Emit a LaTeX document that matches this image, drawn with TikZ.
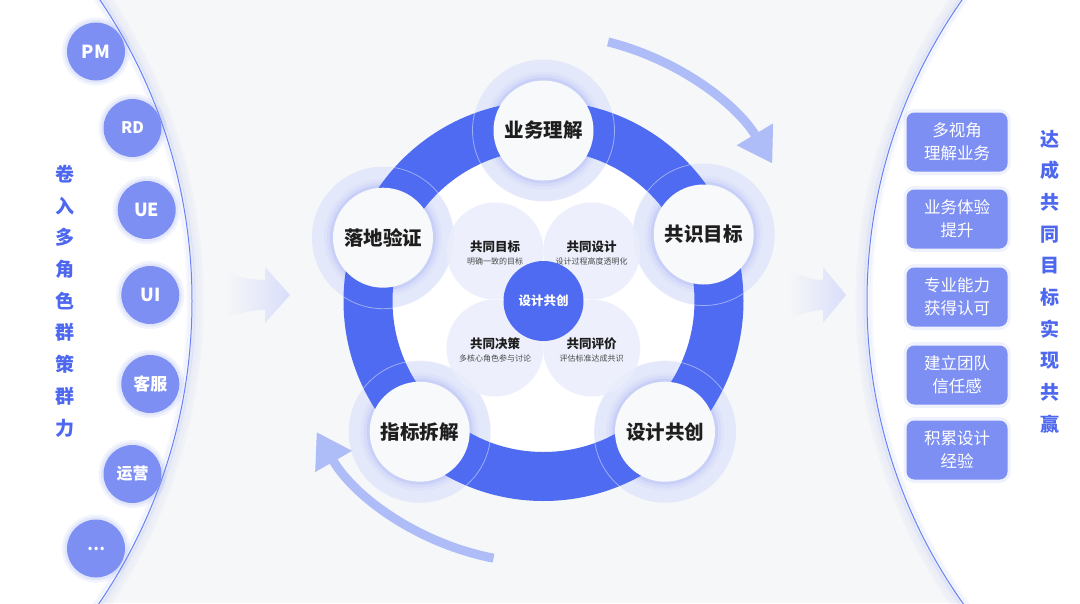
\documentclass[tikz,border=0pt]{standalone}
\usepackage{fontspec}
\setmainfont{Noto Sans CJK SC}
\usepackage{tikz}
\usetikzlibrary{arrows.meta}

\definecolor{ringblue}{HTML}{4E6BF1}
\definecolor{softblue}{HTML}{7D8FF3}
\definecolor{arrowblue}{HTML}{AEBCF7}
\definecolor{halo}{HTML}{E4E8FB}
\definecolor{petalfill}{HTML}{E9EDFC}
\definecolor{bggray}{HTML}{F6F7F8}
\definecolor{nodewhite}{HTML}{F8F9FA}
\definecolor{titleblue}{HTML}{4D67EF}
\definecolor{chevron}{HTML}{D9DEFA}
\definecolor{ink}{HTML}{1E1E1E}

\begin{document}
\begin{tikzpicture}[x=1pt, y=-1pt]
  \tikzset{
    role/.style={circle, fill=softblue, minimum size=58pt, inner sep=0pt, text=white},
    gain/.style={rectangle, rounded corners=8pt, fill=softblue, minimum width=101pt, minimum height=59pt,
      align=center, text=white, font=\fontsize{16.5}{23}\selectfont},
    stage/.style={circle, fill=nodewhite, minimum size=100pt, inner sep=0pt, text=ink,
      font=\bfseries\fontsize{19.5}{20}\selectfont},
    petal/.style={circle, fill=petalfill, fill opacity=0.8, minimum size=97pt, inner sep=0pt},
    tag/.style={text=ink, font=\bfseries\fontsize{12.5}{13}\selectfont},
    note/.style={text=ink!80, font=\fontsize{8}{9}\selectfont},
    hubnode/.style={circle, fill=ringblue, minimum size=80pt, inner sep=0pt, text=white,
      font=\bfseries\fontsize{12.5}{13}\selectfont},
    motto/.style={align=center, text=titleblue, font=\bfseries\fontsize{19}{31.7}\selectfont},
    cycle arrow/.style={draw=arrowblue, line width=9pt, -{Triangle[length=34pt, width=40pt]}},
  }

  \useasboundingbox (0,0) rectangle (1080,603);
  \clip (0,0) rectangle (1080,603);
  \fill[bggray] (0,0) rectangle (1080,603);

  % Side panels
  \foreach \c/\r in {-346/538, 1391/524} {
    \foreach \g/\o in {10/0.03, 7/0.05, 4/0.07, 2/0.09} {
      \draw[ringblue, line width=3pt, opacity=\o] (\c,301) circle[radius=\r+\g];
    }
    \fill[white] (\c,301) circle[radius=\r];
    \foreach \g/\o in {4/0.04, 2/0.06} {
      \draw[ringblue, line width=3pt, opacity=\o] (\c,301) circle[radius=\r-\g];
    }
    \draw[ringblue!85, line width=1pt] (\c,301) circle[radius=\r];
  }

  % Roles
  \foreach \i/\x/\y/\s/\t in {0/96/51.5/18/PM, 1/132.5/128/16/RD, 2/146.7/210/18/UE, 3/150.3/295/18/UI,
                              4/150.3/384/17/客服, 5/132.5/474/16/运营, 6/96/548.5/16/\ldots} {
    \fill[softblue, opacity=0.10] (\x,\y) circle[radius=34];
    \fill[softblue, opacity=0.12] (\x,\y) circle[radius=31.5];
    \path (\x,\y) node [role, font=\bfseries\fontsize{\s}{\s}\selectfont] (role-\i) {\t};
  }
  \node [motto] (left-motto) at (65,301) {卷\\入\\多\\角\\色\\群\\策\\群\\力};

  % Gains
  \foreach \i/\y/\t in {0/142/{多视角\\理解业务}, 1/219/{业务体验\\提升}, 2/297/{专业能力\\获得认可},
                        3/375/{建立团队\\信任感}, 4/450/{积累设计\\经验}} {
    \fill[softblue, opacity=0.12, rounded corners=11pt] (903.5,\y-33) rectangle (1010.5,\y+33);
    \path (957,\y) node [gain] (gain-\i) {\t};
  }
  \node [motto] (right-motto) at (1050,281.5) {达\\成\\共\\同\\目\\标\\实\\现\\共\\赢};

  % Chevrons
  \shade[left color=bggray, right color=chevron] (225,272) .. controls (245,279) and (255,280) .. (265,280)
    -- (265,267) -- (290,295) -- (265,323) -- (265,310) .. controls (255,310) and (245,311) .. (225,318) -- cycle;
  \shade[left color=bggray, right color=chevron] (788,268) .. controls (805,278) and (815,280) .. (823,280)
    -- (823,267) -- (846,295) -- (823,323) -- (823,310) .. controls (815,310) and (805,312) .. (788,320) -- cycle;

  % Wheel
  \coordinate (hub) at (543.5,301);
  \fill[white] (hub) circle[radius=151];
  \foreach \x/\y in {543.5/130.5, 703.7/234.5, 665/431.7, 419.7/431.7, 383/237.7} {
    \fill[halo] (\x,\y) circle[radius=71];
  }
  \fill[ringblue, even odd rule] (hub) circle[radius=200] (hub) circle[radius=151];
  \begin{scope}
    \clip (hub) circle[radius=200];
    \foreach \x/\y in {543.5/130.5, 703.7/234.5, 665/431.7, 419.7/431.7, 383/237.7} {
      \draw[white, opacity=0.45, line width=0.8pt] (\x,\y) circle[radius=71];
    }
  \end{scope}

  \foreach \i/\x/\y/\t/\s in {0/495/251/共同目标/明确一致的目标, 1/591.7/251/共同设计/设计过程高度透明化,
                              2/495/348/共同决策/多核心角色参与讨论, 3/591.7/348/共同评价/评估标准达成共识} {
    \path (\x,\y) node [petal] (petal-\i) {};
    \path (\x,\y-4) node [tag] (petal-\i-title) {\t};
    \path (\x,\y+10) node [note] (petal-\i-note) {\s};
  }
  \node [hubnode] (hub-node) at (hub) {设计共创};

  \foreach \i/\x/\y/\t in {0/543.5/130.5/业务理解, 1/703.7/234.5/共识目标, 2/665/431.7/设计共创,
                           3/419.7/431.7/指标拆解, 4/383/237.7/落地验证} {
    \foreach \g/\o in {9/0.04, 6/0.06, 3/0.09} {
      \fill[ringblue, opacity=\o] (\x,\y) circle[radius=50+\g];
    }
    \path (\x,\y) node [stage] (stage-\i) {\t};
  }

  % Cycle arrows
  \draw [cycle arrow] ([shift={(76:267pt)}]hub) arc[start angle=76, end angle=31, radius=267pt];
  \draw [cycle arrow] ([shift={(259:262pt)}]hub) arc[start angle=259, end angle=210, radius=262pt];

\end{tikzpicture}
\end{document}
